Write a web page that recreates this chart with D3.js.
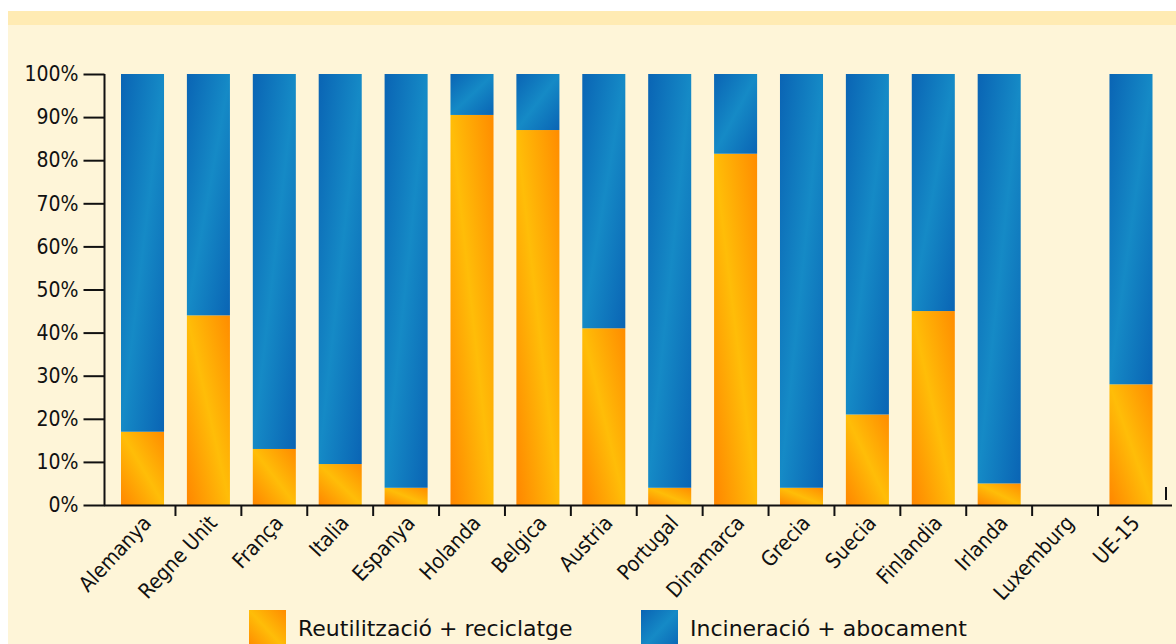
<!DOCTYPE html>
<html>
<head>
<meta charset="utf-8">
<script src="https://cdn.jsdelivr.net/npm/d3@7"></script>
<style>
  body { margin: 0; background: #ffffff; }
  svg { display: block; }
</style>
</head>
<body>
<div id="chart"></div>
<script>
/* global d3 */
var paisos = ["Alemanya", "Regne Unit", "França", "Italia", "Espanya", "Holanda", "Belgica", "Austria",
    "Portugal", "Dinamarca", "Grecia", "Suecia", "Finlandia", "Irlanda", "Luxemburg", "UE-15"];
// % reutilització + reciclatge
var reciclatge = [17, 44, 13, 9.5, 4, 90.5, 87, 41, 4, 81.5, 4, 21, 45, 5, 0, 28];
// % incineració + abocament
var incineracio = [83, 56, 87, 90.5, 96, 9.5, 13, 59, 96, 18.5, 96, 79, 55, 95, 0, 72];
var yTicks = [0, 10, 20, 30, 40, 50, 60, 70, 80, 90, 100];
var series = ["Reutilització + reciclatge", "Incineració + abocament"];

var width = 1176;
var height = 644;

var svg = d3.select("#chart")
    .append("svg")
    .attr("width", width)
    .attr("height", height);

// gradients for the bars
var defs = svg.append("defs");
var gOr = defs.append("linearGradient").attr("id", "gradOr")
    .attr("x1", 0).attr("y1", 1).attr("x2", 1).attr("y2", 0);
gOr.append("stop").attr("offset", "0%").attr("stop-color", "#ff8600");
gOr.append("stop").attr("offset", "50%").attr("stop-color", "#ffbd08");
gOr.append("stop").attr("offset", "100%").attr("stop-color", "#ff8c00");
var gBl = defs.append("linearGradient").attr("id", "gradBl")
    .attr("x1", 0).attr("y1", 0).attr("x2", 1).attr("y2", 1);
gBl.append("stop").attr("offset", "0%").attr("stop-color", "#0a64b4");
gBl.append("stop").attr("offset", "50%").attr("stop-color", "#158ac6");
gBl.append("stop").attr("offset", "100%").attr("stop-color", "#0a64b4");

// backgrounds
svg.append("rect").attr("x", 8).attr("y", 11).attr("width", width - 8).attr("height", height - 11)
    .attr("fill", "#fef5d8");
svg.append("rect").attr("x", 8).attr("y", 11).attr("width", width - 8).attr("height", 14)
    .attr("fill", "#ffebb3");

var x = d3.scaleBand()
    .domain(d3.range(paisos.length))
    .range([104, 1169.5])
    .paddingInner(0.347)
    .paddingOuter(0.258);

var y = d3.scaleLinear()
    .domain([0, 100])
    .range([505, 74]);

var data = paisos.map(function (p, i) {
    return { pais: p, rec: reciclatge[i], inc: incineracio[i] };
});
var stacked = d3.stack().keys(["rec", "inc"])(data);
var fills = ["url(#gradOr)", "url(#gradBl)"];

var g = svg.append("g");
g.selectAll("g.serie")
    .data(stacked)
    .enter().append("g")
    .attr("class", "serie")
    .attr("fill", function (d, i) { return fills[i]; })
    .selectAll("rect")
    .data(function (d) { return d; })
    .enter().append("rect")
    .attr("x", function (d, i) { return x(i); })
    .attr("y", function (d) { return y(d[1]); })
    .attr("width", x.bandwidth())
    .attr("height", function (d) { return y(d[0]) - y(d[1]); });

// y axis
var yAxis = d3.axisLeft(y)
    .tickValues(yTicks)
    .tickFormat(function (d) { return d + "%"; })
    .tickSize(21)
    .tickPadding(5);

var ya = svg.append("g")
    .attr("transform", "translate(104.5,0)")
    .call(yAxis);
ya.select(".domain").attr("d", "M0," + y(100) + "V" + y(0)).attr("stroke", "#111").attr("stroke-width", 2);
ya.selectAll(".tick line").attr("stroke", "#111").attr("stroke-width", 2);
ya.selectAll(".tick text")
    .attr("fill", "#111")
    .style("font-family", "'Liberation Sans Narrow', 'DejaVu Sans Condensed', sans-serif")
    .style("font-size", "21px");

// x axis line and the ticks between bars
svg.append("line")
    .attr("x1", 104).attr("x2", 1172)
    .attr("y1", 505.5).attr("y2", 505.5)
    .attr("stroke", "#111").attr("stroke-width", 2);
svg.selectAll("line.xtick")
    .data(d3.range(paisos.length - 1))
    .enter().append("line")
    .attr("class", "xtick")
    .attr("x1", function (i) { return x(i) + x.bandwidth() + (x.step() - x.bandwidth()) / 2; })
    .attr("x2", function (i) { return x(i) + x.bandwidth() + (x.step() - x.bandwidth()) / 2; })
    .attr("y1", 505).attr("y2", 516)
    .attr("stroke", "#111").attr("stroke-width", 2);
svg.append("line")
    .attr("x1", 1166).attr("x2", 1166)
    .attr("y1", 487).attr("y2", 500)
    .attr("stroke", "#111").attr("stroke-width", 2);

// country labels
svg.selectAll("text.pais")
    .data(paisos)
    .enter().append("text")
    .attr("class", "pais")
    .attr("text-anchor", "end")
    .attr("transform", function (d, i) {
        return "translate(" + (x(i) + x.bandwidth() / 2 + 10) + ",524) rotate(-47)";
    })
    .attr("fill", "#111")
    .style("font-family", "'Liberation Sans Narrow', 'DejaVu Sans Condensed', sans-serif")
    .style("font-size", "21px")
    .text(function (d) { return d; });

// legend
var legX = [249, 641];
var leg = svg.selectAll("g.leg")
    .data(series)
    .enter().append("g")
    .attr("class", "leg")
    .attr("transform", function (d, i) { return "translate(" + legX[i] + ",610)"; });
leg.append("rect")
    .attr("width", 37).attr("height", 40)
    .attr("fill", function (d, i) { return fills[i]; });
leg.append("text")
    .attr("x", 49).attr("y", 26)
    .attr("fill", "#111")
    .style("font-family", "'DejaVu Sans', sans-serif")
    .style("font-size", "22px")
    .text(function (d) { return d; });
</script>
</body>
</html>
